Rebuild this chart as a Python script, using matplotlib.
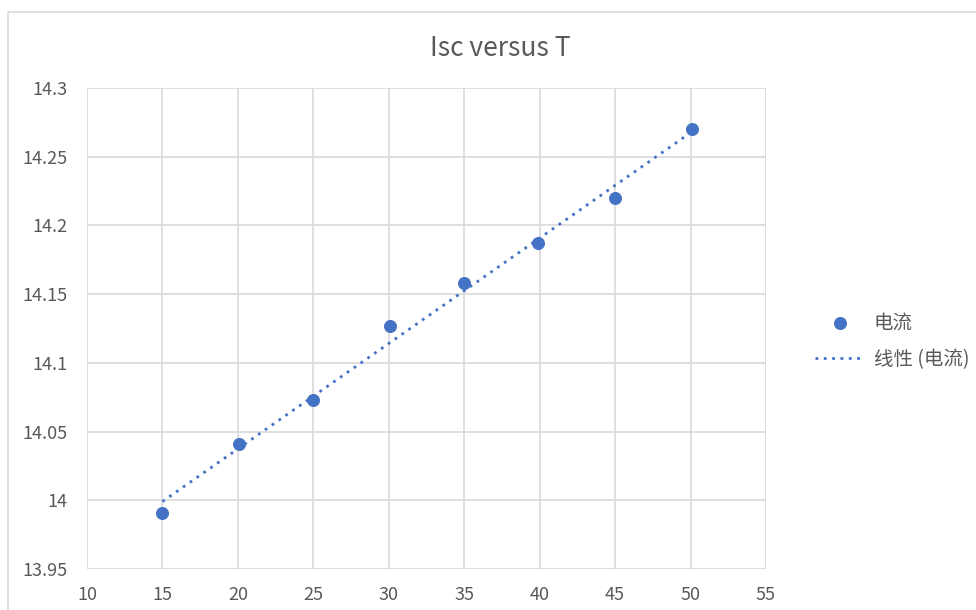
import numpy as np
import matplotlib
matplotlib.use("Agg")
import matplotlib.pyplot as plt
from matplotlib.patches import Rectangle

plt.rcParams['font.family'] = ['Noto Sans CJK SC', 'DejaVu Sans']

# data
temp = [15, 20.05, 25, 30.05, 35, 39.9, 45, 50.1]
current = [13.991, 14.041, 14.073, 14.127, 14.158, 14.187, 14.220, 14.270]
x_ticks = [10, 15, 20, 25, 30, 35, 40, 45, 50, 55]
y_ticks = [13.95, 14, 14.05, 14.1, 14.15, 14.2, 14.25, 14.3]
y_labels = ["13.95", "14", "14.05", "14.1", "14.15", "14.2", "14.25", "14.3"]

blue = '#4472C4'
grey_text = '#595959'
grid_col = '#d9d9d9'

fig = plt.figure(figsize=(9.76, 6.10), dpi=100)
ax = fig.add_axes([87 / 976, 1 - 569 / 610, 679 / 976, 481 / 610])

# chart area border (cropped on right and bottom)
fig.patches.append(Rectangle((8 / 976, -0.1), 1.2, 1.1 - 12 / 610,
                             transform=fig.transFigure, fill=False,
                             edgecolor=grid_col, linewidth=1.2))

# linear trend line
coef = np.polyfit(temp, current, 1)
tx = np.array([min(temp), max(temp)])
trend, = ax.plot(tx, np.polyval(coef, tx), linestyle=(0, (1, 2)), color=blue,
                 linewidth=2, label='线性 (电流)', zorder=2)
pts = ax.scatter(temp, current, s=70, color=blue, label='电流', zorder=3)

ax.set_xlim(10, 55)
ax.set_ylim(13.95, 14.3)
ax.set_xticks(x_ticks)
ax.set_yticks(y_ticks)
ax.set_yticklabels(y_labels)
ax.grid(True, color=grid_col, linewidth=1.2)
ax.set_axisbelow(True)
for s in ax.spines.values():
    s.set_visible(False)
ax.tick_params(length=0, labelsize=13, colors=grey_text)
ax.tick_params(axis='y', pad=14)
ax.tick_params(axis='x', pad=12)

fig.text(500 / 976, 1 - 48 / 610, 'Isc versus T', ha='center', va='center',
         fontsize=19, color=grey_text)

fig.legend(handles=[pts, trend], loc='center left',
           bbox_to_anchor=(797 / 976, 1 - 341 / 610), frameon=False,
           fontsize=14, labelcolor=grey_text, handlelength=2.6,
           handletextpad=0.45, labelspacing=0.8)

fig.savefig('out.png', dpi=100)
